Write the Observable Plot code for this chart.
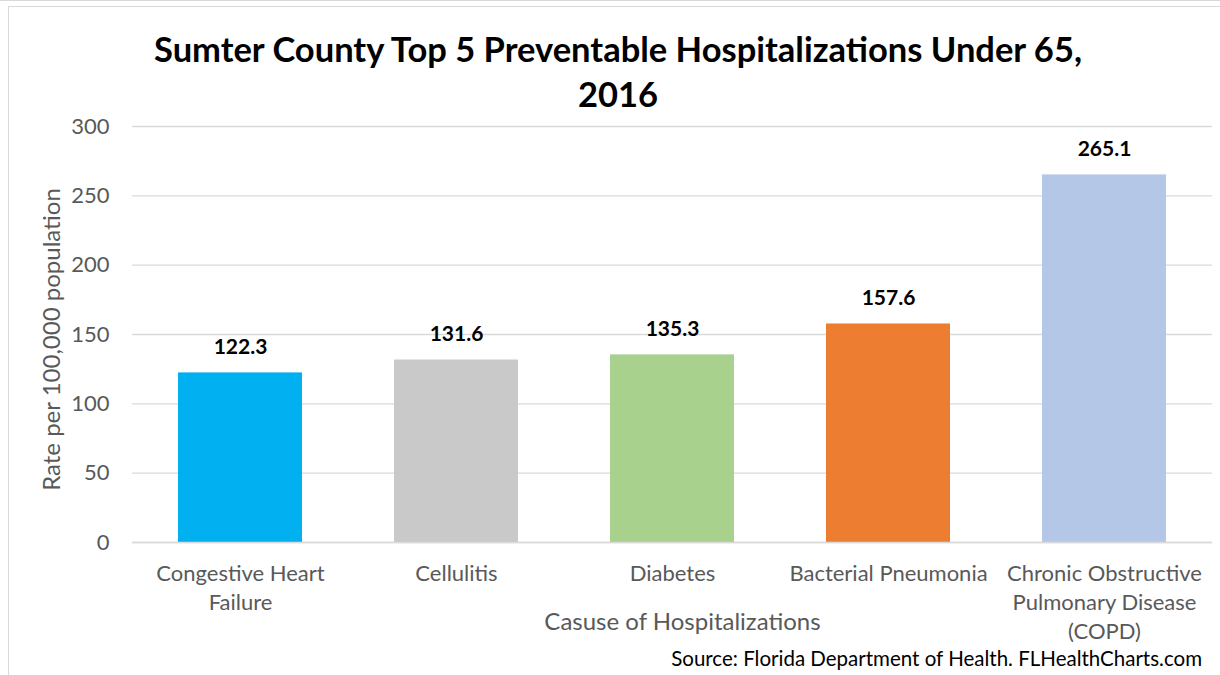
<!DOCTYPE html>
<html>
<head>
<meta charset="utf-8">
<script src="https://cdn.jsdelivr.net/npm/d3@7"></script>
<script src="https://cdn.jsdelivr.net/npm/@observablehq/plot@0.6"></script>
<style>
  body { margin: 0; background: #fff; font-family: Lato, "Open Sans", sans-serif; }
  #wrap { position: relative; width: 1220px; height: 675px; overflow: hidden; background: #fff; }
  #topline { position: absolute; left: 0; top: 0; width: 1220px; height: 1px; background: #d9d9d9; }
  #frame { position: absolute; left: 8px; top: 6px; width: 1300px; height: 800px; border: 1px solid #d9d9d9; }
  #title { position: absolute; left: 8px; width: 1220px; top: 26px; text-align: center; font-weight: bold;
           font-size: 34.5px; line-height: 45px; color: #000; white-space: nowrap; }
  #source { position: absolute; right: 18px; top: 646px; font-size: 20.5px; color: #000; white-space: nowrap; }
  #chart { position: absolute; left: 0; top: 0; }
</style>
</head>
<body>
<div id="wrap">
  <div id="topline"></div>
  <div id="frame"></div>
  <div id="chart"></div>
  <div id="title">Sumter County Top 5 Preventable Hospitalizations Under 65,<br>2016</div>
  <div id="source">Source: Florida Department of Health. FLHealthCharts.com</div>
</div>
<script>
const categories = [
  "Congestive Heart Failure",
  "Cellulitis",
  "Diabetes",
  "Bacterial Pneumonia",
  "Chronic Obstructive Pulmonary Disease (COPD)"
];
const tickLabels = [
  "Congestive Heart\nFailure",
  "Cellulitis",
  "Diabetes",
  "Bacterial Pneumonia",
  "Chronic Obstructive\nPulmonary Disease\n(COPD)"
];
const values = [122.3, 131.6, 135.3, 157.6, 265.1];
const colors = ["#00B0F0", "#C9C9C9", "#A9D18E", "#ED7D31", "#B4C7E7"];
const yTicks = [0, 50, 100, 150, 200, 250, 300];
const xTitle = "Casuse of Hospitalizations";
const yTitle = "Rate per 100,000 population";

const data = categories.map((c, i) => ({cause: c, rate: values[i], label: tickLabels[i]}));

const chart = Plot.plot({
  width: 1220,
  height: 675,
  marginLeft: 132,
  marginRight: 8,
  marginTop: 126,
  marginBottom: 133,
  style: {fontFamily: "Lato, 'Open Sans', sans-serif", background: "transparent", overflow: "visible"},
  x: {domain: categories, paddingInner: 0.426, paddingOuter: 0.213, axis: null},
  y: {domain: [0, 300], axis: null},
  color: {domain: categories, range: colors},
  marks: [
    Plot.gridY(yTicks, {stroke: "#d9d9d9", strokeOpacity: 1, strokeWidth: 1.3}),
    Plot.barY(data, {x: "cause", y: "rate", fill: "cause"}),
    Plot.ruleY([0], {stroke: "#d9d9d9", strokeWidth: 1.3}),
    Plot.axisY({ticks: yTicks, tickSize: 0, tickPadding: 23, fontSize: 22, color: "#595959", label: null}),
    Plot.text(data, {x: "cause", y: "rate", text: d => d.rate.toFixed(1), dy: -26,
      fontWeight: "bold", fontSize: 21, fill: "#000"}),
    Plot.text(data, {x: "cause", text: "label", frameAnchor: "bottom", lineAnchor: "top",
      dy: 18, fontSize: 22, lineHeight: 1.31, fill: "#595959"}),
    Plot.text([xTitle], {text: d => d, frameAnchor: "bottom", dx: 10, dy: 87,
      fontSize: 24, fill: "#595959"}),
    Plot.text([yTitle], {text: d => d, frameAnchor: "left", textAnchor: "middle", rotate: -90,
      dx: -80, dy: 5, fontSize: 24, fill: "#595959"})
  ]
});
document.getElementById("chart").appendChild(chart);
</script>
</body>
</html>
